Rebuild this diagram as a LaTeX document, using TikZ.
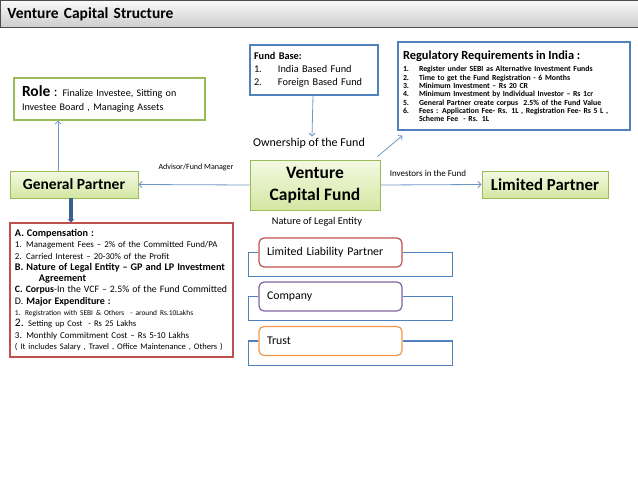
\documentclass[tikz,border=0pt]{standalone}
\usepackage{fontspec}
\setmainfont{Carlito}
\usetikzlibrary{arrows.meta,calc,positioning}
\definecolor{boxgreen}{HTML}{9BBB59}
\definecolor{greentop}{HTML}{F4F9E2}
\definecolor{greenbot}{HTML}{D3E7A2}
\definecolor{boxblue}{HTML}{4F81BD}
\definecolor{boxred}{HTML}{C0504D}
\definecolor{boxpurple}{HTML}{8064A2}
\definecolor{boxorange}{HTML}{F79646}
\definecolor{connblue}{HTML}{7096C4}
\definecolor{darkblue}{HTML}{3A5F8E}
\newcommand{\fsz}[2]{\fontsize{#1}{#2}\selectfont}

\begin{document}
\begin{tikzpicture}[x=1pt,y=-1pt,
        titlebar/.style={
            anchor=north west,
            draw=black!70,
            line width=1pt,
            top color=black!2,
            bottom color=black!20,
            minimum width=638pt,
            minimum height=27pt,
            text width=624pt,
            inner xsep=7pt,
            align=left,
            font=\bfseries\fsz{15.5}{17}
        },
        infobox/.style={
            fill=white,
            line width=1.1pt,
            align=left,
            inner xsep=5pt
        },
        party/.style={
            draw=boxgreen,
            line width=0.9pt,
            top color=greentop,
            bottom color=greenbot,
            align=center,
            font=\bfseries
        },
        entity/.style={
            fill=white,
            rounded corners=5pt,
            line width=1.2pt,
            minimum width=143pt,
            minimum height=29pt,
            text width=127pt,
            inner xsep=8pt,
            align=left,
            font=\fsz{11.8}{13}
        },
        label/.style={inner sep=1pt},
        link/.style={-{Straight Barb[length=3pt,width=6pt]}, line width=0.8pt, draw=connblue},
        strong/.style={-{Triangle[length=3pt,width=6pt]}, line width=3.2pt, draw=darkblue},
        bracket/.style={line width=1.2pt, draw=boxblue}
    ]
        \useasboundingbox (0,0) rectangle (638,479);

        \node[titlebar] (title) at (0,0) {Venture Capital Structure};

        % left side
        \node[infobox, draw=boxgreen, minimum width=191pt, minimum height=42pt, text width=175pt, inner xsep=8pt, font=\fsz{10.1}{14}] (role) at (109.5,99)
            {{\bfseries\fsz{15.5}{14}Role} {\fsz{14}{14}:} Finalize Investee, Sitting on\\Investee Board , Managing Assets};
        \node[party, minimum width=128pt, minimum height=27pt, font=\bfseries\fsz{15.5}{17}] (gp) at (74,184.5) {General Partner};
        \node[infobox, draw=boxred, minimum width=223pt, minimum height=134pt, text width=213pt, inner xsep=5pt, font=\fsz{8.9}{11.3}] (terms) at (121.5,290) {%
            {\bfseries\fsz{10.2}{11.3}A. Compensation :}\\
            1. Management Fees -- 2\% of the Committed Fund/PA\\
            2. Carried Interest -- 20-30\% of the Profit\\
            {\bfseries\fsz{10.2}{11.3}B. Nature of Legal Entity -- GP and LP Investment}\\
            {\bfseries\fsz{10.2}{11.3}\hspace*{24pt}Agreement}\\
            \mbox{\fsz{9.8}{11.3}\textbf{C. Corpus}-In the VCF -- 2.5\% of the Fund Committed}\\
            {\fsz{10}{11.3}D. \textbf{Major Expenditure :}}\\
            {\fsz{7.4}{11.3}1. Registration with SEBI \& Others\ \ - around Rs.10Lakhs}\\
            {\fsz{8.6}{11.3}{\fsz{11.5}{11.3}2.} Setting up Cost\ \ - Rs 25 Lakhs}\\
            {\fsz{9}{11.3}3. Monthly Commitment Cost -- Rs 5-10 Lakhs}\\
            {\fsz{8.5}{11.3}( It includes Salary , Travel , Office Maintenance , Others )}};

        % centre
        \node[infobox, draw=boxblue, minimum width=128pt, minimum height=50pt, text width=120pt, inner xsep=4pt, font=\fsz{10.3}{13}] (fundbase) at (314,70)
            {\textbf{Fund Base:}\\\makebox[24pt][l]{1.}India Based Fund\\\makebox[24pt][l]{2.}Foreign Based Fund};
        \node[label, font=\fsz{12}{14}] (ownership) at (309,143) {Ownership of the Fund};
        \node[party, minimum width=130pt, minimum height=50pt, font=\bfseries\fsz{17.5}{22}] (vcf) at (315,185) {Venture\\Capital Fund};
        \node[label, font=\fsz{8}{9}] (advisor) at (196,167) {Advisor/Fund Manager};
        \node[label, font=\fsz{10.3}{12}] (nature) at (317,222) {Nature of Legal Entity};
        \node[entity, draw=boxred] (llp) at (330.5,252.5) {Limited Liability Partner};
        \node[entity, draw=boxpurple] (company) at (330.5,296.5) {Company};
        \node[entity, draw=boxorange] (trust) at (330.5,341) {Trust};

        % right side
        \node[infobox, draw=boxblue, minimum width=232pt, minimum height=88pt, text width=222pt, inner xsep=5pt, font=\bfseries\fsz{7.8}{8.3}] (regulation) at (514,86) {%
            {\fsz{12.4}{12}Regulatory Requirements in India :}\\[4.5pt]
            \makebox[16pt][l]{1.}Register under SEBI as Alternative Investment Funds\\
            \makebox[16pt][l]{2.}Time to get the Fund Registration - 6 Months\\
            \makebox[16pt][l]{3.}Minimum Investment -- Rs 20 CR\\
            \makebox[16pt][l]{4.}Minimum Investment by Individual Investor -- Rs 1cr\\
            \makebox[16pt][l]{5.}General Partner create corpus\ \ 2.5\% of the Fund Value\\
            \makebox[16pt][l]{6.}Fees : Application Fee- Rs. 1L , Registration Fee- Rs 5 L ,\\
            \hspace*{16pt}Scheme Fee\ \ - Rs. 1L};
        \node[label, font=\fsz{9}{10}] (investors) at (428,173) {Investors in the Fund};
        \node[party, minimum width=126pt, minimum height=27pt, font=\bfseries\fsz{16.8}{18}] (lp) at (545,184.5) {Limited Partner};

        \draw[link] ([xshift=-16pt]gp.north) -- ([xshift=-16pt]gp.north |- role.south);
        \draw[strong] ([xshift=-3pt]gp.south) -- ([xshift=-3pt]gp.south |- terms.north);
        \draw[link] (vcf.west) -- (gp.east);
        \draw[link] (vcf.east) -- (lp.west);
        \draw[link] ([xshift=-1pt]fundbase.south) -- ([xshift=3pt]ownership.north);
        \draw[link] ([xshift=-3pt,yshift=3pt]vcf.north east) -- ([xshift=5pt,yshift=-5pt]regulation.south west);
        \foreach \ent in {llp,company,trust}
            \draw[bracket] (\ent.west) -| ([xshift=-10pt,yshift=-9pt]\ent.south west) -| ([xshift=50pt]\ent.east) -- (\ent.east);
    \end{tikzpicture}
\end{document}
